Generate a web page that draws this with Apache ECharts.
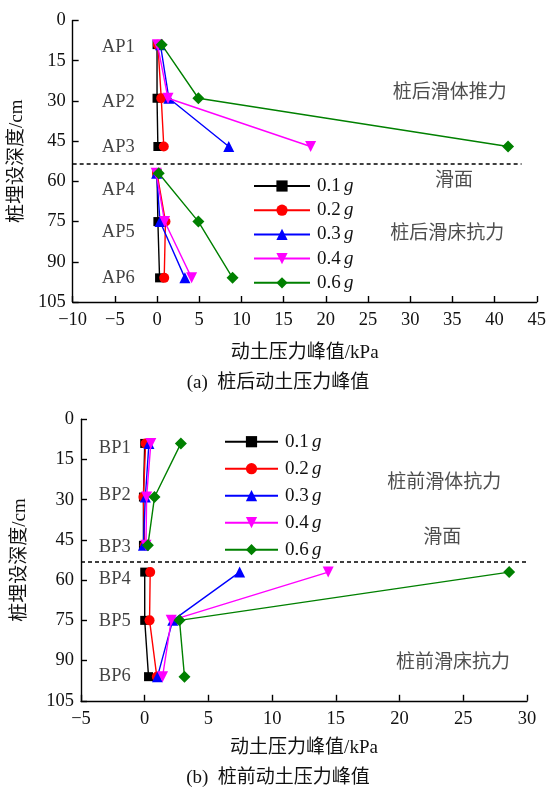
<!DOCTYPE html>
<html><head><meta charset="utf-8">
<script src="https://cdn.jsdelivr.net/npm/echarts@6/dist/echarts.min.js"></script>
<style>html,body{margin:0;padding:0;background:#fff}#c{width:549px;height:796px}</style>
</head><body><div id="c"></div><script>
// ---------- data ----------
const seriesNames = ['0.1 g', '0.2 g', '0.3 g', '0.4 g', '0.6 g'];
const depthsA = [9, 29, 47, 57, 75, 96];
const depthsB = [9, 29, 47, 57, 75, 96];
// (a) behind pile
const a01 = [0.0, 0.0, 0.1, 0.0, 0.1, 0.3];
const a02 = [0.1, 0.5, 0.8, 0.0, 1.0, 0.85];
const a03 = [0.4, 1.4, 8.5, -0.05, 0.35, 3.3];
const a04 = [0.05, 1.3, 18.2, -0.1, 0.9, 4.1];
const a06 = [0.55, 4.9, 41.6, 0.2, 4.9, 8.95];
// (b) in front of pile
const b01 = [0.0, -0.1, -0.1, 0.0, 0.0, 0.3];
const b02 = [0.07, -0.1, 0.0, 0.43, 0.38, 0.95];
const b03 = [0.33, 0.05, -0.1, 7.45, 2.2, 1.0];
const b04 = [0.48, 0.15, 0.1, 14.4, 2.08, 1.4];
const b06 = [2.84, 0.77, 0.25, 28.6, 2.73, 3.12];
// labels
const labelsA = ['AP1', 'AP2', 'AP3', 'AP4', 'AP5', 'AP6'];
const labelsAX = [-4.6, -4.6, -4.6, -4.6, -4.6, -4.6];
const labelsAY = [9.8, 30.3, 47.1, 63.2, 78.8, 96.2];
const labelsB = ['BP1', 'BP2', 'BP3', 'BP4', 'BP5', 'BP6'];
const labelsBX = [-2.35, -2.35, -2.35, -2.35, -2.35, -2.35];
const labelsBY = [10.6, 28.2, 47.5, 59.6, 75.2, 95.7];
const notesA = ['桩后滑体推力', '滑面', '桩后滑床抗力'];
const notesAX = [34.7, 35.2, 34.4];
const notesAY = [27, 59.9, 79.7];
const notesB = ['桩前滑体抗力', '滑面', '桩前滑床抗力'];
const notesBX = [23.5, 23.35, 24.2];
const notesBY = [23.8, 44.3, 90.9];
const slipDepthA = 53.5, slipDepthB = 53.3;
const xTicksA = { min: -10, max: 45, interval: 5 };
const xTicksB = { min: -5, max: 30, interval: 5 };
const yTicks = { min: 0, max: 105, interval: 15 };

// ---------- styling ----------
const FONT = '"Liberation Serif", "Times New Roman", "Noto Sans CJK SC", serif';
const TXT = '#111';
const colors = ['#000000', '#ff0000', '#0000ff', '#ff00ff', '#008000'];
const symbols = ['rect', 'circle', 'triangle', 'triangle', 'diamond'];
const symbolRot = [0, 0, 0, 180, 0];
const symbolSizes = [9, 10, 11, 11, 12];

function pts(vals, depths) {
  const out = [];
  vals.forEach((v, i) => {
    out.push([v, depths[i]]);
    if (i === 2) out.push(['-', '-']);
  });
  return out;
}
const minus = v => String(v).replace('-', '\u2212');

function xAxis(grid, t, gap) {
  return {
    type: 'value', gridIndex: grid, min: t.min, max: t.max, interval: t.interval,
    name: '动土压力峰值/kPa', nameLocation: 'middle', nameGap: gap,
    nameTextStyle: { fontFamily: FONT, fontSize: 19, color: TXT },
    axisLine: { onZero: false, lineStyle: { color: '#000', width: 1.4 } },
    axisTick: { inside: true, length: 6, lineStyle: { color: '#000', width: 1.4 } },
    axisLabel: { fontFamily: FONT, fontSize: 18.5, color: TXT, margin: 9, formatter: minus },
    splitLine: { show: false }
  };
}
function yAxis(grid, gap) {
  return {
    type: 'value', gridIndex: grid, inverse: true, min: yTicks.min, max: yTicks.max, interval: yTicks.interval,
    name: '桩埋设深度/cm', nameLocation: 'middle', nameGap: gap,
    nameTextStyle: { fontFamily: FONT, fontSize: 19, color: TXT },
    axisLine: { onZero: false, lineStyle: { color: '#000', width: 1.4 } },
    axisTick: { inside: true, length: 6, lineStyle: { color: '#000', width: 1.4 } },
    axisLabel: { fontFamily: FONT, fontSize: 18.5, color: TXT, margin: 7 },
    splitLine: { show: false }
  };
}
function lineSeries(idx, vals, depths, axisIdx) {
  return {
    type: 'line', name: seriesNames[idx], xAxisIndex: axisIdx, yAxisIndex: axisIdx,
    data: pts(vals, depths), connectNulls: false,
    symbol: symbols[idx], symbolRotate: symbolRot[idx], symbolSize: symbolSizes[idx],
    showAllSymbol: true,
    lineStyle: { color: colors[idx], width: 1.4 },
    itemStyle: { color: colors[idx] },
    emphasis: { disabled: true }, animation: false, z: 3 + idx
  };
}
function textSeries(names, xs, ys, axisIdx, size, color) {
  return {
    type: 'scatter', xAxisIndex: axisIdx, yAxisIndex: axisIdx, silent: true,
    symbolSize: 1, itemStyle: { color: 'transparent' },
    data: names.map((n, i) => ({ value: [xs[i], ys[i]], name: n })),
    label: { show: true, position: 'inside', formatter: p => p.name,
      fontFamily: FONT, fontSize: size, color: color },
    emphasis: { disabled: true }, animation: false, z: 2
  };
}
function slipLine(axisIdx, depth, x0, x1) {
  return {
    type: 'line', xAxisIndex: axisIdx, yAxisIndex: axisIdx, data: [], silent: true, animation: false,
    markLine: {
      silent: true, symbol: 'none', animation: false, label: { show: false },
      lineStyle: { color: '#000', width: 1.6, type: [4, 3] },
      data: [[{ coord: [x0, depth] }, { coord: [x1, depth] }]]
    }
  };
}
function legend(left, top, width, gap) {
  return {
    orient: 'vertical', left: left, top: top, itemWidth: width, itemHeight: 14, itemGap: gap,
    data: seriesNames, selectedMode: false,
    formatter: n => '{n|' + n.split(' ')[0] + '} {g|g}',
    textStyle: {
      padding: [0, 0, 0, 2],
      rich: {
        n: { fontFamily: FONT, fontSize: 19, color: TXT, lineHeight: 19 },
        g: { fontFamily: FONT, fontSize: 19, color: TXT, fontStyle: 'italic', lineHeight: 19 }
      }
    }
  };
}

const seriesA = [a01, a02, a03, a04, a06];
const seriesB = [b01, b02, b03, b04, b06];
const series = [];
series.push(slipLine(0, slipDepthA, -10, 43.2));
series.push(slipLine(1, slipDepthB, -5, 30));
series.push(textSeries(labelsA, labelsAX, labelsAY, 0, 18.5, TXT));
series.push(textSeries(labelsB, labelsBX, labelsBY, 1, 18.5, TXT));
series.push(textSeries(notesA, notesAX, notesAY, 0, 19, '#222'));
series.push(textSeries(notesB, notesBX, notesBY, 1, 19, '#222'));
seriesA.forEach((v, i) => series.push(lineSeries(i, v, depthsA, 0)));
seriesB.forEach((v, i) => series.push(lineSeries(i, v, depthsB, 1)));

const chart = echarts.init(document.getElementById('c'), null, { renderer: 'canvas' });
chart.setOption({
  backgroundColor: '#fff',
  animation: false,
  grid: [
    { left: 67, top: 20.5, width: 473, height: 281.5 },
    { left: 81, top: 419.3, width: 446, height: 281.5 }
  ],
  xAxis: [xAxis(0, xTicksA, 41.5), xAxis(1, xTicksB, 37.5)],
  yAxis: [yAxis(0, 38), yAxis(1, 51)],
  legend: [legend(248, 171.5, 56, 5.2), legend(219, 427.2, 53, 8)],
  graphic: [
    { type: 'text', style: { text: '(a)  桩后动土压力峰值', x: 278, y: 383, textAlign: 'center', textVerticalAlign: 'middle', font: '19px ' + FONT, fill: TXT } },
    { type: 'text', style: { text: '(b)  桩前动土压力峰值', x: 278, y: 778, textAlign: 'center', textVerticalAlign: 'middle', font: '19px ' + FONT, fill: TXT } }
  ],
  series: series
});
</script></body></html>
